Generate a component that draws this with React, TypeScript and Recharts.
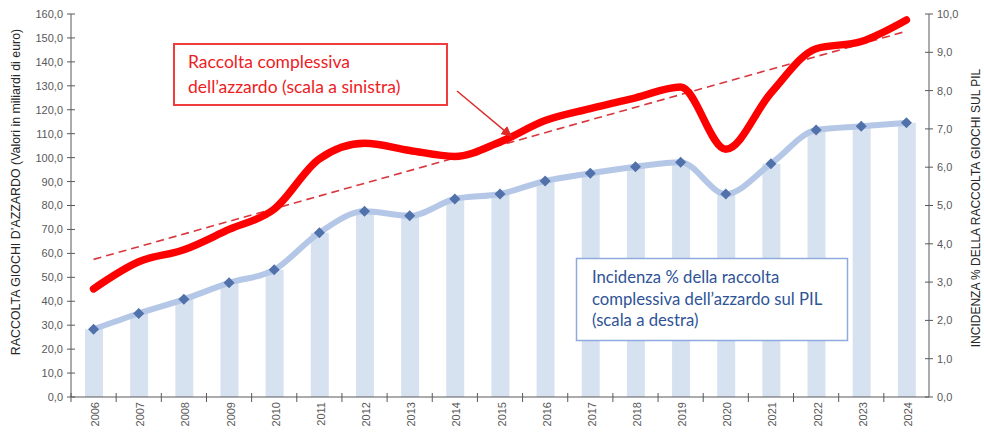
import React from 'react';
import { ComposedChart, Bar, Line, XAxis, YAxis } from 'recharts';

const years = ['2006', '2007', '2008', '2009', '2010', '2011', '2012', '2013', '2014', '2015', '2016', '2017', '2018', '2019', '2020', '2021', '2022', '2023', '2024'];
const raccolta = [45.2, 56.5, 61.5, 70.0, 78.5, 99.5, 106.0, 103.0, 100.5, 106.5, 115.5, 120.5, 125.0, 129.5, 103.5, 127.0, 145.5, 148.5, 157.5];
const incidenza = [1.77, 2.18, 2.55, 2.98, 3.32, 4.29, 4.85, 4.73, 5.17, 5.30, 5.64, 5.84, 6.01, 6.13, 5.30, 6.09, 6.97, 7.07, 7.16];
const trend: (number | null)[] = [57.5, null, null, null, null, null, null, null, null, null, null, null, null, null, null, null, null, null, 152.8];
const leftTicks = [0, 10, 20, 30, 40, 50, 60, 70, 80, 90, 100, 110, 120, 130, 140, 150, 160];
const rightTicks = [0, 1, 2, 3, 4, 5, 6, 7, 8, 9, 10];

const leftTitle = "RACCOLTA GIOCHI D\u2019AZZARDO (Valori in miliardi di euro)";
const rightTitle = 'INCIDENZA % DELLA RACCOLTA GIOCHI SUL PIL';
const redLines = ['Raccolta complessiva', 'dell\u2019azzardo (scala a sinistra)'];
const blueLines = ['Incidenza % della raccolta', 'complessiva dell\u2019azzardo sul PIL', '(scala a destra)'];

const data = years.map((y, i) => ({ year: y, raccolta: raccolta[i], incidenza: incidenza[i], trend: trend[i] }));

const W = 984;
const H = 432;
const PLOT_L = 71;
const PLOT_R = 929;
const BAND = (PLOT_R - PLOT_L) / years.length;
const AXIS = '#595959';
const FONT = '"Liberation Sans", Arial, sans-serif';

const fmt = (v: number) => v.toFixed(1).replace('.', ',');

const XTick = (props: any) => {
  const { x, y, payload } = props;
  const tx = x + 5.5;
  const ty = y + 5;
  return (
    <g>
      <line x1={x - BAND / 2} x2={x - BAND / 2} y1={y - 4} y2={y + 5} stroke={AXIS} strokeWidth={1} />
      <text x={tx} y={ty} transform={`rotate(-90 ${tx} ${ty})`} textAnchor="end" fontSize={11} fill={AXIS} fontFamily={FONT}>
        {payload.value}
      </text>
    </g>
  );
};

const LeftTick = (props: any) => {
  const { x, y, payload } = props;
  return (
    <g>
      <line x1={x - 4} x2={x + 4} y1={y} y2={y} stroke={AXIS} strokeWidth={1} />
      <text x={x - 8} y={y} dy="0.36em" textAnchor="end" fontSize={11} fill={AXIS} fontFamily={FONT}>
        {fmt(payload.value)}
      </text>
    </g>
  );
};

const RightTick = (props: any) => {
  const { x, y, payload } = props;
  return (
    <g>
      <line x1={x - 4} x2={x + 4} y1={y} y2={y} stroke={AXIS} strokeWidth={1} />
      <text x={x + 8} y={y} dy="0.36em" textAnchor="start" fontSize={11} fill={AXIS} fontFamily={FONT}>
        {fmt(payload.value)}
      </text>
    </g>
  );
};

const Diamond = (props: any) => {
  const { cx, cy } = props;
  if (cx == null || cy == null) return null;
  const r = 5.5;
  return <path d={`M${cx},${cy - r}L${cx + r},${cy}L${cx},${cy + r}L${cx - r},${cy}Z`} fill="#5171aa" />;
};

export default function App() {
  return (
    <div style={{ position: 'absolute', left: 0, top: 0, width: W, height: H, background: '#fff' }}>
      <ComposedChart width={W} height={H} data={data} margin={{ top: 14, right: 10, bottom: 5, left: 20 }}>
        <XAxis
          dataKey="year"
          xAxisId="x"
          height={30}
          tickSize={0}
          tickMargin={0}
          tickLine={false}
          axisLine={{ stroke: AXIS }}
          tick={<XTick />}
          interval={0}
        />
        <YAxis
          yAxisId="left"
          orientation="left"
          width={51}
          domain={[0, 160]}
          ticks={leftTicks}
          tickSize={0}
          tickMargin={0}
          tickLine={false}
          axisLine={{ stroke: AXIS }}
          tick={<LeftTick />}
          interval={0}
        />
        <YAxis
          yAxisId="right"
          orientation="right"
          width={45}
          domain={[0, 10]}
          ticks={rightTicks}
          tickSize={0}
          tickMargin={0}
          tickLine={false}
          axisLine={{ stroke: AXIS }}
          tick={<RightTick />}
          interval={0}
        />
        <Bar xAxisId="x" yAxisId="right" dataKey="incidenza" barSize={18} fill="#d7e2f1" isAnimationActive={false} />
        <Line
          xAxisId="x"
          yAxisId="right"
          dataKey="incidenza"
          type="monotone"
          stroke="#b4c7e7"
          strokeWidth={6}
          dot={<Diamond />}
          activeDot={false}
          isAnimationActive={false}
        />
        <Line
          xAxisId="x"
          yAxisId="left"
          dataKey="trend"
          type="linear"
          connectNulls
          stroke="#d9363e"
          strokeWidth={1.6}
          strokeDasharray="8 5"
          dot={false}
          activeDot={false}
          isAnimationActive={false}
        />
        <Line
          xAxisId="x"
          yAxisId="left"
          dataKey="raccolta"
          type="monotone"
          stroke="#ff0000"
          strokeWidth={7.5}
          strokeLinecap="round"
          dot={false}
          activeDot={false}
          isAnimationActive={false}
        />
      </ComposedChart>
      <svg width={W} height={H} style={{ position: 'absolute', left: 0, top: 0, pointerEvents: 'none' }}>
        <defs>
          <marker id="arrowHead" viewBox="0 0 10 10" refX="9" refY="5" markerWidth="7" markerHeight="7" orient="auto">
            <path d="M0,0 L10,5 L0,10 Z" fill="#e02a2a" />
          </marker>
        </defs>
        <text
          x={16}
          y={192}
          transform="rotate(-90 16 192)"
          textAnchor="middle"
          dominantBaseline="central"
          fontSize={12.4}
          fontFamily={FONT}
          fill="#262626"
        >
          {leftTitle}
        </text>
        <text
          x={976}
          y={208}
          transform="rotate(-90 976 208)"
          textAnchor="middle"
          dominantBaseline="central"
          fontSize={12}
          fontFamily={FONT}
          fill="#262626"
        >
          {rightTitle}
        </text>
        <rect x={174} y={44} width={273} height={61} fill="#fff" stroke="#f03c3c" strokeWidth={2} />
        {redLines.map((t, i) => (
          <text key={t} x={188} y={68 + i * 25} fontSize={17.5} fontFamily="Lato, sans-serif" fill="#ee1c25">
            {t}
          </text>
        ))}
        <line x1={457} y1={91} x2={511} y2={136} stroke="#e02a2a" strokeWidth={1.5} markerEnd="url(#arrowHead)" />
        <rect x={576.5} y={258.5} width={271} height={82} fill="#fff" stroke="#8faadc" strokeWidth={1.5} />
        {blueLines.map((t, i) => (
          <text key={t} x={592} y={283 + i * 21.5} fontSize={16.7} fontFamily="Lato, sans-serif" fill="#2f5496">
            {t}
          </text>
        ))}
      </svg>
    </div>
  );
}
